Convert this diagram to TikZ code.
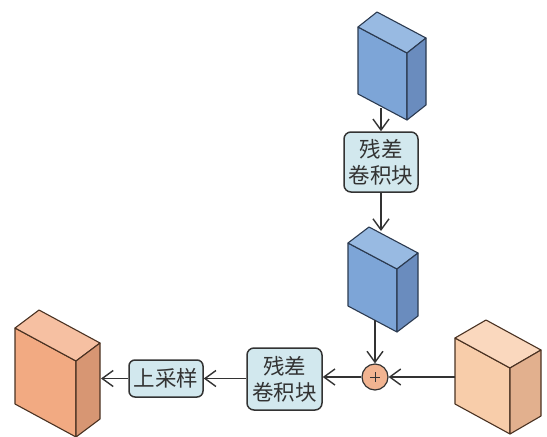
\documentclass[tikz,border=0pt]{standalone}
\usepackage{fontspec}
\newfontfamily\cjk{Noto Sans CJK SC}
\usetikzlibrary{arrows.meta}
\definecolor{bfront}{HTML}{7DA5D7}
\definecolor{btop}{HTML}{98BAE2}
\definecolor{bside}{HTML}{6A8CBE}
\definecolor{bline}{HTML}{2B3A50}
\definecolor{ofront}{HTML}{F2AA82}
\definecolor{otop}{HTML}{F6C0A2}
\definecolor{oside}{HTML}{D79673}
\definecolor{pfront}{HTML}{F8CDAA}
\definecolor{ptop}{HTML}{FAD8BE}
\definecolor{pside}{HTML}{E2B08E}
\definecolor{oline}{HTML}{4A3222}
\definecolor{blockfill}{HTML}{D2E8EE}
\definecolor{sumfill}{HTML}{F2B491}
\definecolor{ink}{HTML}{333333}
\newcommand\cubside{bside}
\newcommand\cubline{bline}
% #1,#2 front top-left; #3 width; #4 skew; #5 height; #6 side dx; #7 side dy; #8 front; #9 top
\newcommand\mycuboid[9]{%
  \filldraw[fill=#8,draw=\cubline,line width=1.1pt,line join=round]
    (#1,#2) -- ++(#3,#4) -- ++(0,#5) -- ++(-#3,-#4) -- cycle;
  \filldraw[fill=#9,draw=\cubline,line width=1.1pt,line join=round]
    (#1,#2) -- ++(#6,-#7) -- ++(#3,#4) -- ++(-#6,#7) -- cycle;
  \filldraw[fill=\cubside,draw=\cubline,line width=1.1pt,line join=round]
    (#1+#3,#2+#4) -- ++(#6,-#7) -- ++(0,#5) -- ++(-#6,#7) -- cycle;
}
\begin{document}
\begin{tikzpicture}[x=1pt,y=-1pt,
  conn/.style={draw=ink,line width=1.4pt,-{Straight Barb[length=11pt,width=16pt,line width=1.4pt]}},
  block/.style={draw=ink,line width=1.5pt,fill=blockfill,rounded corners=7pt,align=center,
     font=\cjk\fontsize{21.5}{26}\selectfont,text=ink,inner sep=0pt,minimum width=74pt},
  sum/.style={circle,draw=ink,line width=1.2pt,fill=sumfill,minimum size=26pt,inner sep=0pt}]
\useasboundingbox (0,0) rectangle (547,437);
% top blue cuboid
\mycuboid{358}{27}{49}{26}{67}{19}{15}{bfront}{btop}
\coordinate (c1b) at (381,108);
% residual block 1
\node[block,minimum height=60pt] (r1) at (381,162) {残差\\卷积块};
% second blue cuboid
\mycuboid{348}{243}{49}{26}{63}{21}{16}{bfront}{btop}
\coordinate (c2t) at (381,231);
\coordinate (c2b) at (375,320);
% sum
\node[sum] (s) at (375,377) {};
\draw[ink,line width=0.8pt] ([xshift=-5pt]s.center) -- ([xshift=5pt]s.center)
  ([yshift=-5pt]s.center) -- ([yshift=5pt]s.center);
% right orange cuboid
\renewcommand\cubside{pside}
\renewcommand\cubline{oline}
\mycuboid{455}{338}{55}{30}{66}{31}{18}{pfront}{ptop}
\coordinate (c3l) at (455,377);
% residual block 2
\node[block,minimum height=62pt,minimum width=75pt] (r2) at (284.5,379) {残差\\卷积块};
% upsample
\node[block,minimum height=37pt,rounded corners=6pt] (up) at (166,378.5) {上采样};
% left orange cuboid
\renewcommand\cubside{oside}
\mycuboid{15}{328}{61}{33}{76}{24}{18}{ofront}{otop}
\coordinate (c4r) at (101,378.5);
% connectors
\draw[conn] (c1b) -- (r1.north);
\draw[conn] (r1.south) -- (c2t);
\draw[conn] (c2b) -- (s.north);
\draw[conn] (c3l) -- (s.east);
\draw[conn] (s.west) -- (r2.east |- s.west);
\draw[conn] (r2.west |- up.east) -- (up.east);
\draw[conn] (up.west) -- (c4r);
\end{tikzpicture}
\end{document}
